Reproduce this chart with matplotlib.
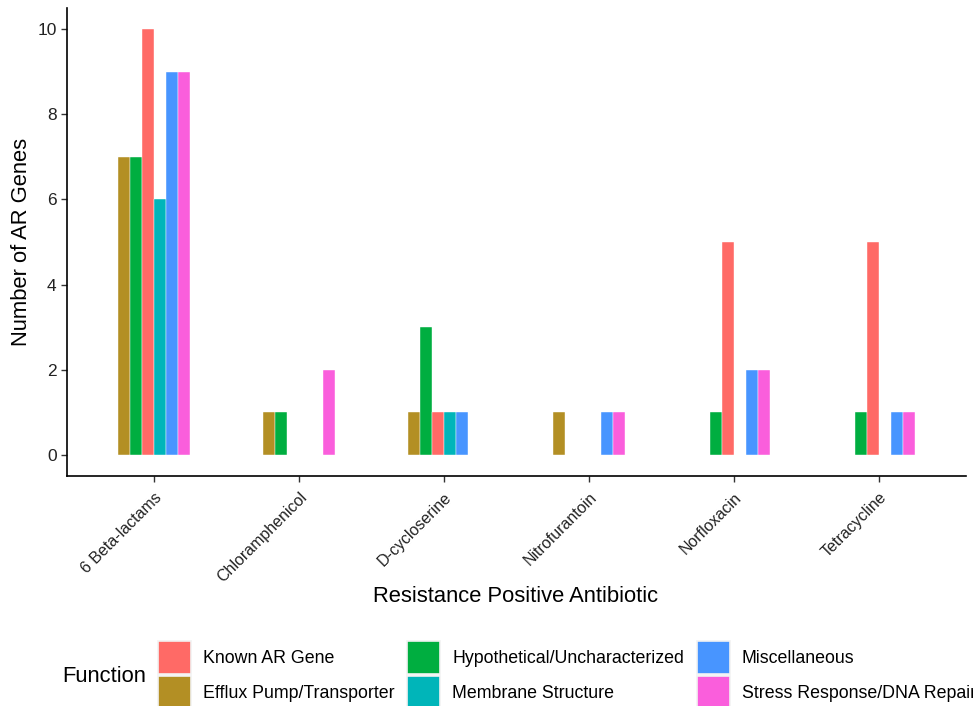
import matplotlib.pyplot as plt
import numpy as np

plt.rcParams['font.family'] = ['Liberation Sans', 'DejaVu Sans']

# categories on the x axis
antibiotics = ['6 Beta-lactams', 'Chloramphenicol', 'D-cycloserine',
               'Nitrofurantoin', 'Norfloxacin', 'Tetracycline']

# number of genes per function (0 = no bar)
efflux = [7, 1, 1, 1, 0, 0]
hypothetical = [7, 1, 3, 0, 1, 1]
known = [10, 0, 1, 0, 5, 5]
membrane = [6, 0, 1, 0, 0, 0]
misc = [9, 0, 1, 1, 2, 1]
stress = [9, 2, 0, 1, 2, 1]

# dodge order (alphabetical) and colours
series = [
    ('Efflux Pump/Transporter', efflux, '#B38F24'),
    ('Hypothetical/Uncharacterized', hypothetical, '#00AE40'),
    ('Known AR Gene', known, '#FF6A66'),
    ('Membrane Structure', membrane, '#00B5B9'),
    ('Miscellaneous', misc, '#4895FF'),
    ('Stress Response/DNA Repair', stress, '#FA5EDC'),
]
legend_order = ['Known AR Gene', 'Efflux Pump/Transporter',
                'Hypothetical/Uncharacterized', 'Membrane Structure',
                'Miscellaneous', 'Stress Response/DNA Repair']

fig = plt.figure(figsize=(9.73, 7.06), dpi=100)
ax = fig.add_axes([67 / 973, 1 - 476 / 706, (966 - 67) / 973, (476 - 8) / 706])

x = np.arange(1, len(antibiotics) + 1)
w = 0.5 / len(series)
handles = {}
for j, (name, vals, col) in enumerate(series):
    vals = np.array(vals)
    keep = vals > 0
    pos = x + (j - 2.5) * w
    ax.bar(pos[keep], vals[keep], width=w, color=col, edgecolor='white', linewidth=0.3)
    handles[name] = plt.Rectangle((0, 0), 1, 1, facecolor=col, edgecolor='#F2F2F2', linewidth=1.2)

ax.set_xlim(0.4, 6.6)
ax.set_ylim(-0.5, 10.5)
ax.set_yticks([0, 2, 4, 6, 8, 10])
ax.set_xticks(x)
ax.set_xticklabels(antibiotics, rotation=45, ha='right', rotation_mode='anchor', fontsize=11.5)
ax.tick_params(axis='y', labelsize=12.5)
ax.tick_params(length=4, width=1, color='#333333', labelcolor='#222222')
ax.tick_params(axis='x', pad=6)
for s in ['top', 'right']:
    ax.spines[s].set_visible(False)
for s in ['left', 'bottom']:
    ax.spines[s].set_linewidth(1.2)

ax.set_ylabel('Number of AR Genes', fontsize=15.8)
fig.text(516 / 973, 1 - 597 / 706, 'Resistance Positive Antibiotic', fontsize=15.8,
         ha='center', va='center')

# legend with title on the left
fig.text(62 / 973, 1 - 676 / 706, 'Function', fontsize=15.8, ha='left', va='center')
fig.legend([handles[n] for n in legend_order], legend_order, ncol=3,
           loc='upper left', bbox_to_anchor=(158 / 973, 1 - 641 / 706),
           frameon=False, fontsize=12.8, borderpad=0, borderaxespad=0,
           handlelength=1.85, handleheight=2.47, handletextpad=0.67,
           labelspacing=0.1, columnspacing=0.73)

fig.savefig('out.png', dpi=100)
